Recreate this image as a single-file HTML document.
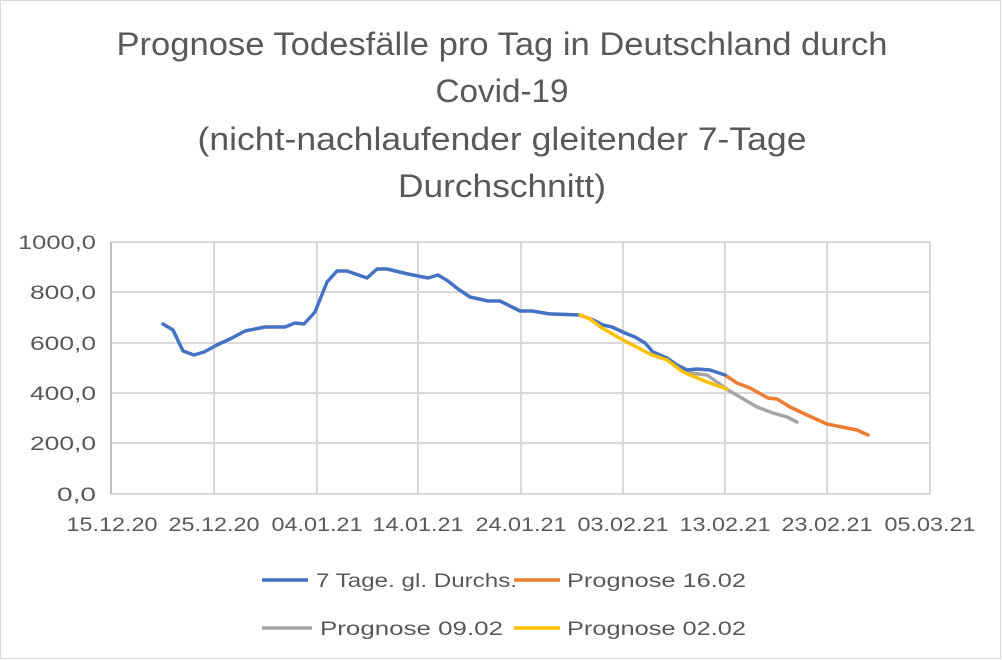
<!DOCTYPE html>
<html><head><meta charset="utf-8"><style>
body{margin:0;background:#fff;}
svg{display:block;font-family:"Liberation Sans",sans-serif;}
</style></head><body>
<svg width="1002" height="660" viewBox="0 0 1002 660">
<rect x="0.5" y="0.5" width="1000" height="658" fill="#fff" stroke="#d9d9d9"/>
<g fill="#595959" font-size="32" text-anchor="middle" lengthAdjust="spacingAndGlyphs">
<text x="502" y="55" textLength="771" lengthAdjust="spacingAndGlyphs">Prognose Todesfälle pro Tag in Deutschland durch</text>
<text x="502" y="102" textLength="133" lengthAdjust="spacingAndGlyphs">Covid-19</text>
<text x="502" y="150" textLength="609" lengthAdjust="spacingAndGlyphs">(nicht-nachlaufender gleitender 7-Tage</text>
<text x="502" y="197" textLength="208" lengthAdjust="spacingAndGlyphs">Durchschnitt)</text>
</g>
<g stroke="#d9d9d9" stroke-width="2">
<line x1="111" y1="242" x2="930" y2="242"/><line x1="111" y1="292" x2="930" y2="292"/>
<line x1="111" y1="343" x2="930" y2="343"/><line x1="111" y1="393" x2="930" y2="393"/>
<line x1="111" y1="443" x2="930" y2="443"/><line x1="111" y1="494" x2="930" y2="494"/>
<line x1="214" y1="242" x2="214" y2="494"/><line x1="317" y1="242" x2="317" y2="494"/>
<line x1="418" y1="242" x2="418" y2="494"/><line x1="521" y1="242" x2="521" y2="494"/>
<line x1="623" y1="242" x2="623" y2="494"/><line x1="725" y1="242" x2="725" y2="494"/>
<line x1="827" y1="242" x2="827" y2="494"/><line x1="930" y1="242" x2="930" y2="494"/>
<line x1="111" y1="242" x2="111" y2="494" stroke="#bfbfbf"/>
</g>
<g fill="#595959" font-size="19" text-anchor="end">
<text x="96" y="249" textLength="78" lengthAdjust="spacingAndGlyphs">1000,0</text>
<text x="96" y="299" textLength="66" lengthAdjust="spacingAndGlyphs">800,0</text>
<text x="96" y="350" textLength="66" lengthAdjust="spacingAndGlyphs">600,0</text>
<text x="96" y="400" textLength="66" lengthAdjust="spacingAndGlyphs">400,0</text>
<text x="96" y="450" textLength="66" lengthAdjust="spacingAndGlyphs">200,0</text>
<text x="96" y="501" textLength="39" lengthAdjust="spacingAndGlyphs">0,0</text>
</g>
<g fill="#595959" font-size="19" text-anchor="middle">
<text x="112" y="531" textLength="91" lengthAdjust="spacingAndGlyphs">15.12.20</text>
<text x="214" y="531" textLength="91" lengthAdjust="spacingAndGlyphs">25.12.20</text>
<text x="317" y="531" textLength="91" lengthAdjust="spacingAndGlyphs">04.01.21</text>
<text x="418" y="531" textLength="91" lengthAdjust="spacingAndGlyphs">14.01.21</text>
<text x="521" y="531" textLength="91" lengthAdjust="spacingAndGlyphs">24.01.21</text>
<text x="623" y="531" textLength="91" lengthAdjust="spacingAndGlyphs">03.02.21</text>
<text x="725" y="531" textLength="91" lengthAdjust="spacingAndGlyphs">13.02.21</text>
<text x="827" y="531" textLength="91" lengthAdjust="spacingAndGlyphs">23.02.21</text>
<text x="930" y="531" textLength="91" lengthAdjust="spacingAndGlyphs">05.03.21</text>
</g>
<g fill="none" stroke-width="3.5" stroke-linejoin="round" stroke-linecap="round">
<polyline stroke="#a5a5a5" points="683,372 707,375 717,382 728,390 740,397 757,407 773,413 787,417 797,422"/>
<polyline stroke="#ed7d31" points="725,375 737,383 750,388 768,398 777,399 790,407 807,415 827,424 847,428 857,430 868,435"/>
<polyline stroke="#4472c4" points="163,324 173,330 183,351 194,355 204,352 217,345 232,338 245,331 265,327 285,327 295,323 304,324 315,312 327,282 337,271 347,271 367,278 377,269 387,269 408,274 428,278 438,275 448,281 458,289 470,297 488,301 500,301 520,311 532,311 550,314 553,314 580,315 593,320 603,325 612,327 625,333 635,337 645,343 653,352 667,358 677,365 687,370 697,369 710,370 725,375"/>
<polyline stroke="#ffc000" points="580,315 590,319 602,328 623,340 650,354 667,360 683,372 707,382 727,389"/>
</g>
<g stroke-width="3.5">
<line x1="262" y1="580" x2="308" y2="580" stroke="#4472c4"/>
<line x1="514" y1="580" x2="560" y2="580" stroke="#ed7d31"/>
<line x1="262" y1="628" x2="312" y2="628" stroke="#a5a5a5"/>
<line x1="514" y1="628" x2="560" y2="628" stroke="#ffc000"/>
</g>
<g fill="#595959" font-size="19">
<text x="316" y="587" textLength="201" lengthAdjust="spacingAndGlyphs">7 Tage. gl. Durchs.</text>
<text x="567" y="587" textLength="179" lengthAdjust="spacingAndGlyphs">Prognose 16.02</text>
<text x="320" y="635" textLength="183" lengthAdjust="spacingAndGlyphs">Prognose 09.02</text>
<text x="567" y="635" textLength="179" lengthAdjust="spacingAndGlyphs">Prognose 02.02</text>
</g>
</svg>
</body></html>
